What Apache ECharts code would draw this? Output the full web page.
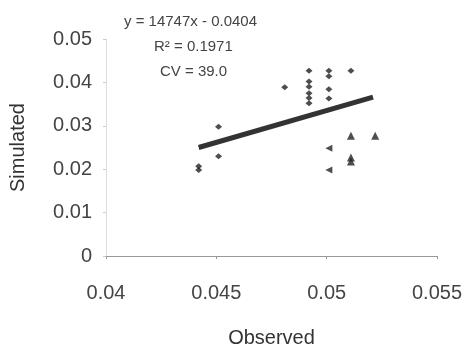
<!DOCTYPE html>
<html>
<head>
<meta charset="utf-8">
<script src="https://cdn.jsdelivr.net/npm/echarts@6/dist/echarts.min.js"></script>
<style>
  html, body { margin: 0; padding: 0; background: #fff; }
  #chart { width: 467px; height: 353px; }
</style>
</head>
<body>
<div id="chart"></div>
<script>
// diamond markers (observed, simulated)
var diamondPoints = [
  [0.0442, 0.0207], [0.0442, 0.0198],
  [0.0451, 0.0298], [0.0451, 0.0230],
  [0.0481, 0.0389],
  [0.0492, 0.0427], [0.0492, 0.0402], [0.0492, 0.0390],
  [0.0492, 0.0375], [0.0492, 0.0364], [0.0492, 0.0352],
  [0.0501, 0.0427], [0.0501, 0.0414], [0.0501, 0.0384], [0.0501, 0.0363],
  [0.0511, 0.0427]
]
// left pointing triangles
var leftTrianglePoints = [[0.0501, 0.0248], [0.0501, 0.0198]]
// upright triangles
var trianglePoints = [
  [0.0511, 0.0277], [0.0511, 0.0227], [0.0511, 0.0218],
  [0.0522, 0.0277]
]
// trend line ends
var trendLine = [[0.0442, 0.0250], [0.0521, 0.0366]]

var xTicks = { min: 0.04, max: 0.055, interval: 0.005 }
var yTicks = { min: 0, max: 0.05, interval: 0.01 }

var annotation = ['y = 14747x - 0.0404', 'R\u00b2 = 0.1971', 'CV = 39.0']

var chart = echarts.init(document.getElementById('chart'))
var font = '"Liberation Sans", Arial, sans-serif'

chart.setOption({
  animation: false,
  backgroundColor: '#fff',
  textStyle: { fontFamily: font },
  grid: { left: 105, right: 30, top: 39, bottom: 94 },
  xAxis: {
    type: 'value',
    min: xTicks.min,
    max: xTicks.max,
    interval: xTicks.interval,
    name: 'Observed',
    nameLocation: 'middle',
    nameGap: 72,
    nameTextStyle: { color: '#333', fontSize: 20, fontFamily: font },
    axisLine: { lineStyle: { color: '#999', width: 1 } },
    axisTick: { length: 3, lineStyle: { color: '#999' } },
    splitLine: { show: false },
    axisLabel: { color: '#444', fontSize: 20, margin: 27, fontFamily: font }
  },
  yAxis: {
    type: 'value',
    min: yTicks.min,
    max: yTicks.max,
    interval: yTicks.interval,
    name: 'Simulated',
    nameLocation: 'middle',
    nameGap: 78,
    nameTextStyle: { color: '#333', fontSize: 20, fontFamily: font },
    axisLine: { show: true, lineStyle: { color: '#ddd', width: 1 } },
    axisTick: { show: true, length: 3, lineStyle: { color: '#ccc' } },
    splitLine: { show: false },
    axisLabel: { color: '#444', fontSize: 20, margin: 14, fontFamily: font }
  },
  graphic: annotation.map(function (t, i) {
    return {
      type: 'text',
      left: 202 - [78, 48, 42][i],
      top: 14 + i * 25,
      style: { text: t, fill: '#444', fontSize: 15, fontFamily: font }
    }
  }),
  series: [
    {
      type: 'scatter',
      symbol: 'diamond',
      symbolSize: [7, 6],
      itemStyle: { color: '#222' },
      data: diamondPoints,
      z: 3
    },
    {
      type: 'scatter',
      symbol: 'triangle',
      symbolSize: 7,
      symbolRotate: 90,
      itemStyle: { color: '#222' },
      data: leftTrianglePoints,
      z: 3
    },
    {
      type: 'scatter',
      symbol: 'triangle',
      symbolSize: 8,
      itemStyle: { color: '#222' },
      data: trianglePoints,
      z: 3
    },
    {
      type: 'line',
      data: trendLine,
      symbol: 'none',
      lineStyle: { color: '#333', width: 5 },
      z: 2
    }
  ]
})
</script>
</body>
</html>
